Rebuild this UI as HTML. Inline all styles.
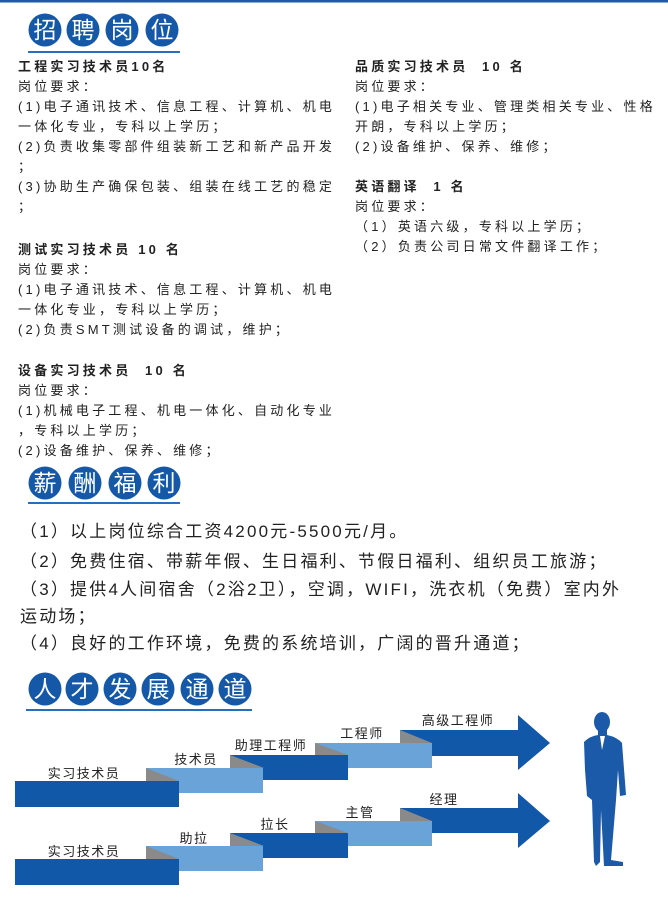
<!DOCTYPE html>
<html><head><meta charset="utf-8"><style>
body{margin:0;background:#fff;}
#p{position:relative;width:668px;height:898px;overflow:hidden;font-family:"Liberation Sans","Noto Sans CJK SC",sans-serif;color:#222;}
.t{position:absolute;white-space:nowrap;font-size:13px;letter-spacing:3.2px;line-height:16px;}
.b{font-weight:bold;}
.w{position:absolute;white-space:nowrap;font-size:17px;letter-spacing:2.2px;line-height:20px;left:20px;}
svg{position:absolute;left:0;top:0;}
</style></head><body><div id="p">
<svg width="668" height="898" font-family="Liberation Sans, Noto Sans CJK SC, sans-serif">
<rect x="0" y="0" width="668" height="2.5" fill="#1a5aa8"/>
<g fill="#1558a8">
<circle cx="45" cy="30" r="16.5"/><circle cx="83" cy="30" r="16.5"/><circle cx="122" cy="30" r="16.5"/><circle cx="162" cy="30" r="16.5"/>
<circle cx="45" cy="483" r="16.5"/><circle cx="85" cy="483" r="16.5"/><circle cx="125" cy="483" r="16.5"/><circle cx="164" cy="483" r="16.5"/>
<circle cx="45" cy="689" r="16.5"/><circle cx="82" cy="689" r="16.5"/><circle cx="120" cy="689" r="16.5"/><circle cx="158" cy="689" r="16.5"/><circle cx="197" cy="689" r="16.5"/><circle cx="235" cy="689" r="16.5"/>
</g>
<g fill="#fff" font-size="23" text-anchor="middle">
<text x="45" y="38">招</text><text x="83" y="38">聘</text><text x="122" y="38">岗</text><text x="162" y="38">位</text>
<text x="45" y="491">薪</text><text x="85" y="491">酬</text><text x="125" y="491">福</text><text x="164" y="491">利</text>
<text x="45" y="697">人</text><text x="82" y="697">才</text><text x="120" y="697">发</text><text x="158" y="697">展</text><text x="197" y="697">通</text><text x="235" y="697">道</text>
</g>
<rect x="28" y="51" width="152" height="2" fill="#2a6cc0"/>
<rect x="28" y="502" width="152" height="2" fill="#2a6cc0"/>
<rect x="26" y="709" width="226" height="2" fill="#2a6cc0"/>

<polygon points="518,715 550,743 518,770" fill="#1158a8"/>
<rect x="400" y="730" width="119" height="26" fill="#1158a8"/>
<polygon points="400,730 400,743 432,743" fill="#8a8a8a"/>
<rect x="315" y="743" width="117" height="25" fill="#6aa3d8"/>
<polygon points="315,743 315,755 348,755" fill="#8a8a8a"/>
<rect x="230" y="755" width="118" height="25" fill="#1158a8"/>
<polygon points="230,755 230,768 264,768" fill="#8a8a8a"/>
<rect x="146" y="768" width="117" height="25" fill="#6aa3d8"/>
<polygon points="146,768 146,781 179,781" fill="#8a8a8a"/>
<rect x="15" y="781" width="164" height="26" fill="#1158a8"/>

<polygon points="518,793 550,821 518,848" fill="#1158a8"/>
<rect x="400" y="808" width="119" height="25" fill="#1158a8"/>
<polygon points="400,808 400,821 432,821" fill="#8a8a8a"/>
<rect x="315" y="821" width="117" height="25" fill="#6aa3d8"/>
<polygon points="315,821 315,833 348,833" fill="#8a8a8a"/>
<rect x="230" y="833" width="118" height="25" fill="#1158a8"/>
<polygon points="230,833 230,846 264,846" fill="#8a8a8a"/>
<rect x="146" y="846" width="117" height="25" fill="#6aa3d8"/>
<polygon points="146,846 146,859 179,859" fill="#8a8a8a"/>
<rect x="15" y="859" width="164" height="26" fill="#1158a8"/>

<g fill="#222" font-size="13" text-anchor="middle" letter-spacing="1.5">
<text x="84" y="778">实习技术员</text>
<text x="196" y="764">技术员</text>
<text x="271" y="750">助理工程师</text>
<text x="362" y="738">工程师</text>
<text x="458" y="725">高级工程师</text>
<text x="84" y="856">实习技术员</text>
<text x="194" y="843">助拉</text>
<text x="275" y="829">拉长</text>
<text x="360" y="817">主管</text>
<text x="444" y="804">经理</text>
</g>

<g fill="#1a5aa8">
<ellipse cx="602" cy="722" rx="8" ry="10"/>
<rect x="598" y="728" width="9" height="10"/>
<path d="M584,742 Q590,736 598,735 L607,735 Q617,737 622,743 L626,795 L620,796 L618,770 L616,800 L611,860 L623,862 L623,866 L604,866 L601,810 L600,862 L596,866 L594,862 L592,800 L587,796 L585,770 Z"/>
</g>
<path d="M600,736 L602,750 L605,736 Z" fill="#fff"/>
</svg>

<div class="t b" style="left:18px;top:59px">工程实习技术员10名</div>
<div class="t" style="left:18px;top:79px">岗位要求：</div>
<div class="t" style="left:18px;top:99px">(1)电子通讯技术、信息工程、计算机、机电</div>
<div class="t" style="left:18px;top:119px">一体化专业，专科以上学历；</div>
<div class="t" style="left:18px;top:139px">(2)负责收集零部件组装新工艺和新产品开发</div>
<div class="t" style="left:18px;top:159px">；</div>
<div class="t" style="left:18px;top:179px">(3)协助生产确保包装、组装在线工艺的稳定</div>
<div class="t" style="left:18px;top:199px">；</div>

<div class="t b" style="left:18px;top:242px">测试实习技术员 10 名</div>
<div class="t" style="left:18px;top:262px">岗位要求：</div>
<div class="t" style="left:18px;top:282px">(1)电子通讯技术、信息工程、计算机、机电</div>
<div class="t" style="left:18px;top:302px">一体化专业，专科以上学历；</div>
<div class="t" style="left:18px;top:322px">(2)负责SMT测试设备的调试，维护；</div>

<div class="t b" style="left:18px;top:363px">设备实习技术员&nbsp; 10 名</div>
<div class="t" style="left:18px;top:383px">岗位要求：</div>
<div class="t" style="left:18px;top:403px">(1)机械电子工程、机电一体化、自动化专业</div>
<div class="t" style="left:18px;top:423px">，专科以上学历；</div>
<div class="t" style="left:18px;top:443px">(2)设备维护、保养、维修；</div>

<div class="t b" style="left:355px;top:59px">品质实习技术员&nbsp; 10 名</div>
<div class="t" style="left:355px;top:79px">岗位要求：</div>
<div class="t" style="left:355px;top:99px">(1)电子相关专业、管理类相关专业、性格</div>
<div class="t" style="left:355px;top:119px">开朗，专科以上学历；</div>
<div class="t" style="left:355px;top:139px">(2)设备维护、保养、维修；</div>
<div class="t b" style="left:355px;top:179px">英语翻译&nbsp; 1 名</div>
<div class="t" style="left:355px;top:199px">岗位要求：</div>
<div class="t" style="left:355px;top:219px">（1）英语六级，专科以上学历；</div>
<div class="t" style="left:355px;top:239px">（2）负责公司日常文件翻译工作；</div>

<div class="w" style="top:522px">（1）以上岗位综合工资4200元-5500元/月。</div>
<div class="w" style="top:552px">（2）免费住宿、带薪年假、生日福利、节假日福利、组织员工旅游；</div>
<div class="w" style="top:580px">（3）提供4人间宿舍（2浴2卫），空调，WIFI，洗衣机（免费）室内外</div>
<div class="w" style="top:607px">运动场；</div>
<div class="w" style="top:634px">（4）良好的工作环境，免费的系统培训，广阔的晋升通道；</div>
</div></body></html>
